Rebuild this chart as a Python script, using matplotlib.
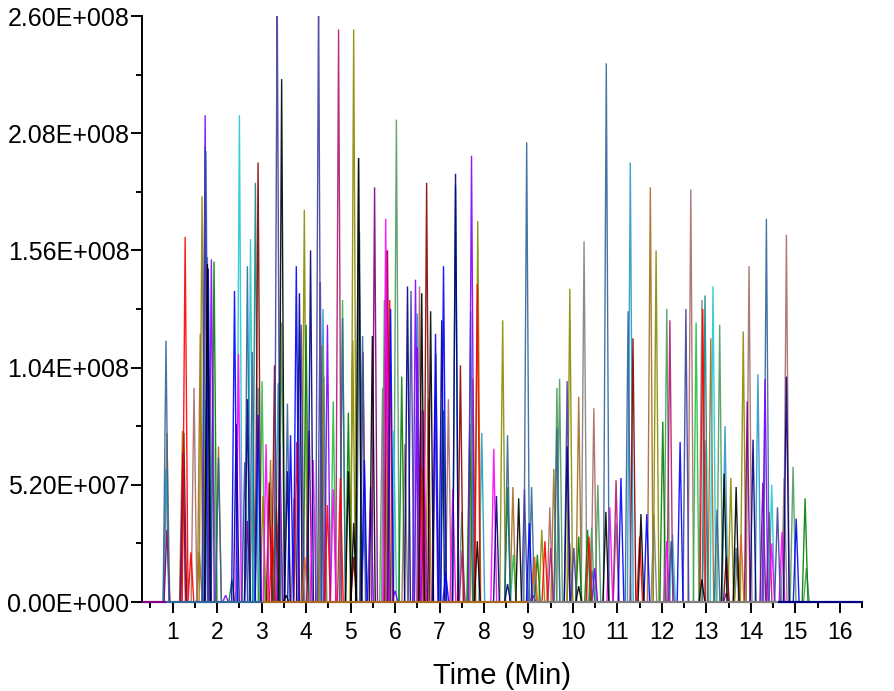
import numpy as np
import matplotlib
matplotlib.use('Agg')
import matplotlib.pyplot as plt
from matplotlib.ticker import MultipleLocator

plt.rcParams['font.family'] = ['Liberation Sans', 'DejaVu Sans']

# retention time (min) and peak height (1e8 counts), one pair per trace colour
red_t = [1.28, 1.41, 3.24, 3.79, 4.48, 4.77, 5.88, 6.6, 7.85, 9.37, 10.36, 11.5, 12.92]
red_h = [1.62, 0.22, 0.34, 0.71, 0.43, 0.55, 1.34, 0.6, 1.41, 0.27, 0.29, 0.29, 1.30]
blue_t = [1.8, 2.39, 2.92, 3.65, 3.78, 5.31, 5.9, 6.91, 7.09, 7.14, 9.02, 11.08, 11.66, 12.41, 15.02]
blue_h = [1.48, 1.38, 0.83, 0.74, 1.49, 0.63, 1.3, 1.19, 1.49, 0.13, 0.35, 0.55, 0.39, 0.71, 0.37]
green_t = [1.93, 2.33, 3.33, 4.0, 4.95, 6.15, 7.09, 7.68, 8.53, 9.2, 10.13, 10.33, 12.02, 15.22]
green_h = [1.51, 0.10, 0.42, 1.23, 0.84, 1.0, 0.85, 0.79, 0.51, 0.21, 0.29, 0.32, 0.80, 0.46]
magenta_t = [2.48, 3.1, 4.16, 4.61, 5.79, 6.64, 7.3, 8.22, 10.83, 12.11, 14.47, 14.7]
magenta_h = [1.10, 0.7, 0.63, 0.50, 1.70, 0.85, 0.5, 0.68, 0.42, 0.27, 0.26, 0.31]
cyan_t = [1.72, 2.50, 2.75, 5.97, 12.24, 13.15, 14.47]
cyan_h = [0.9, 2.16, 1.61, 0.76, 0.3, 1.40, 0.52]
olive_t = [1.22, 1.66, 3.03, 3.41, 3.96, 4.36, 5.07, 5.05, 6.58, 7.86, 8.42, 9.3, 9.93, 11.87, 13.55, 13.7, 13.83]
olive_h = [0.76, 1.80, 0.47, 0.44, 1.74, 1.14, 2.54, 1.16, 0.6, 1.69, 1.25, 0.32, 1.39, 1.56, 0.55, 0.21, 1.20]
darkred_t = [1.25, 2.92, 3.17, 3.29, 5.07, 5.83, 6.71, 7.47, 11.35, 13.45]
darkred_h = [0.75, 1.95, 0.53, 1.05, 0.2, 1.56, 1.86, 1.05, 1.17, 0.20]
navy_t = [2.43, 2.68, 3.58, 3.85, 4.10, 6.28, 7.05, 7.36, 8.28, 8.53, 9.87, 14.05, 14.8]
navy_h = [0.79, 0.90, 0.58, 1.37, 1.56, 1.4, 1.25, 1.90, 0.47, 0.08, 0.69, 0.72, 1.0]
purple_t = [0.87, 1.23, 2.68, 4.07, 5.28, 5.54, 6.65, 9.1, 13.92, 14.27, 13.45]
purple_h = [0.32, 0.66, 0.36, 0.76, 1.11, 1.84, 0.6, 0.03, 0.89, 0.53, 0.04]
violet_t = [1.73, 1.87, 2.19, 3.41, 4.48, 5.45, 6.0, 6.46, 6.5, 6.9, 7.72, 10.49, 14.32]
violet_h = [2.16, 1.52, 0.03, 0.70, 1.23, 0.51, 0.05, 1.43, 1.13, 0.9, 1.98, 0.15, 0.99]
teal_t = [1.78, 2.86, 7.36, 7.7, 10.43, 12.97]
teal_h = [1.53, 1.86, 1.85, 1.29, 0.14, 1.36]
steel_t = [0.85, 2.03, 2.68, 2.79, 3.58, 4.82, 5.2, 5.27, 5.31, 8.53, 8.96, 9.07, 9.64, 10.75, 11.24, 13.24, 13.67, 14.35]
steel_h = [1.16, 0.64, 1.49, 1.11, 0.88, 1.26, 1.64, 1.18, 0.39, 0.74, 2.04, 0.51, 0.77, 2.39, 1.29, 0.41, 0.24, 1.70]
rosy_t = [1.48, 3.73, 4.34, 6.22, 6.55, 7.2, 9.48, 10.47, 12.65, 13.96, 14.8]
rosy_h = [0.95, 0.46, 0.86, 0.7, 1.4, 0.9, 0.42, 0.86, 1.83, 1.49, 1.63]
brown_t = [0.87, 1.62, 1.6, 2.03, 3.2, 4.4, 6.75, 7.75, 8.65, 9.12, 9.57, 9.93, 10.13, 11.74, 13.1]
brown_h = [0.75, 1.19, 0.22, 0.69, 0.63, 1.0, 0.9, 0.99, 0.51, 0.2, 0.59, 0.26, 0.91, 1.84, 1.17]
gray_t = [2.8, 5.18, 5.72, 10.25, 11.82, 12.9, 12.97, 14.75, 10.97]
gray_h = [0.6, 1.97, 0.95, 1.60, 0.39, 1.34, 0.72, 0.55, 0.35]
black_t = [1.78, 3.45, 3.55, 4.95, 5.07, 5.18, 5.49, 6.6, 6.8, 7.85, 8.78, 10.13, 10.74, 11.53, 12.9, 13.4, 13.67]
black_h = [1.50, 2.32, 0.03, 0.58, 0.35, 1.97, 1.18, 1.37, 1.29, 0.27, 0.46, 0.07, 0.40, 0.39, 0.1, 0.57, 0.51]
lime_t = [3.01, 4.61, 4.82, 5.76, 8.66, 12.77]
lime_h = [0.98, 0.89, 1.34, 1.34, 0.21, 1.24]
sky_t = [0.85, 1.75, 2.92, 3.37, 4.38, 6.5, 7.95, 11.29, 13.42, 14.16]
sky_h = [0.59, 2.0, 0.95, 0.97, 1.30, 1.28, 0.75, 1.95, 0.78, 1.01]
slate_t = [1.73, 2.62, 3.35, 3.89, 4.28, 4.32, 6.36, 8.91, 9.87, 10.02, 12.21, 12.54, 14.6]
slate_h = [2.02, 0.62, 2.72, 1.23, 2.72, 1.42, 1.38, 0.50, 0.98, 0.24, 0.27, 1.30, 0.42]
sea_t = [1.9, 3.45, 6.03, 6.92, 7.5, 9.64, 9.7, 10.42, 10.56, 12.11, 13.3, 14.95, 15.25]
sea_h = [1.0, 1.24, 2.14, 1.10, 0.4, 0.95, 0.99, 0.33, 0.52, 1.30, 1.23, 0.60, 0.15]
crimson_t = [4.73, 5.81, 6.58, 7.51, 9.5, 10.97, 12.18, 14.41]
crimson_h = [2.54, 1.56, 0.85, 0.23, 0.24, 0.54, 1.25, 0.40]
orange_t = [3.97, 9.14, 13.78]
orange_h = [0.2, 0.2, 0.30]

series = [
    (brown_t, brown_h, '#a86a20'),
    (gray_t, gray_h, '#808080'),
    (rosy_t, rosy_h, '#a86a6a'),
    (sea_t, sea_h, '#4f9a5f'),
    (lime_t, lime_h, '#20c040'),
    (cyan_t, cyan_h, '#20c8d0'),
    (sky_t, sky_h, '#2898c8'),
    (teal_t, teal_h, '#108888'),
    (olive_t, olive_h, '#8a8a00'),
    (green_t, green_h, '#008000'),
    (darkred_t, darkred_h, '#880000'),
    (crimson_t, crimson_h, '#b01870'),
    (purple_t, purple_h, '#800080'),
    (magenta_t, magenta_h, '#ff00ff'),
    (steel_t, steel_h, '#336699'),
    (violet_t, violet_h, '#8000ff'),
    (slate_t, slate_h, '#4040a0'),
    (navy_t, navy_h, '#000080'),
    (orange_t, orange_h, '#e06020'),
    (red_t, red_h, '#ff0000'),
    (blue_t, blue_h, '#0000ff'),
    (black_t, black_h, '#000000'),
]

# colour showing on top along the zero line
baseline_breaks = [0.31, 0.85, 3.0, 9.0, 14.6, 16.5]
baseline_colors = ['#800080', '#336699', '#a86a20', '#808080', '#000080']

y_ticks = [0.0, 0.52, 1.04, 1.56, 2.08, 2.60]
y_labels = ['0.00E+000', '5.20E+007', '1.04E+008', '1.56E+008', '2.08E+008', '2.60E+008']
x_ticks = list(range(1, 17))

half_width = 0.065

fig = plt.figure(figsize=(8.94, 6.91), dpi=100)
ax = fig.add_axes([142 / 894, 1 - 602 / 691, 720 / 894, 586 / 691])

for times, heights, color in series:
    order = np.argsort(times)
    xs = []
    ys = []
    for i in order:
        xs += [times[i] - half_width, times[i], times[i] + half_width]
        ys += [0, heights[i], 0]
    ax.plot(xs, ys, color=color, lw=1.0, alpha=0.9, solid_joinstyle='miter')

for i, color in enumerate(baseline_colors):
    ax.plot(baseline_breaks[i:i + 2], [0, 0], color=color, lw=1.6, clip_on=False,
            solid_capstyle='butt', zorder=3)

ax.set_xlim(0.31, 16.5)
ax.set_ylim(0, 2.6)

ax.spines['top'].set_visible(False)
ax.spines['right'].set_visible(False)
ax.spines['left'].set_linewidth(1.4)
ax.spines['bottom'].set_linewidth(1.4)

ax.set_xticks(x_ticks)
ax.xaxis.set_minor_locator(MultipleLocator(0.5))
ax.set_yticks(y_ticks)
ax.set_yticklabels(y_labels)
ax.yaxis.set_minor_locator(MultipleLocator(0.26))
ax.tick_params(axis='both', which='major', length=8, width=1.4)
ax.tick_params(axis='both', which='minor', length=4.5, width=1.4)
ax.tick_params(axis='y', which='major', pad=1, labelsize=18)
ax.tick_params(axis='x', which='major', pad=6, labelsize=16.5)

ax.set_xlabel('Time (Min)', fontsize=21, labelpad=13)

plt.savefig('out.png', dpi=100)
